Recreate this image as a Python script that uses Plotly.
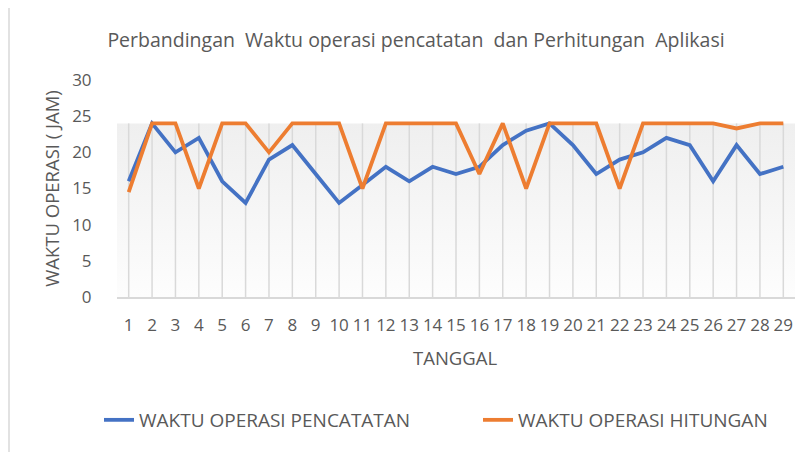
import plotly.graph_objects as go

# ---- data ----
tanggal = list(range(1, 30))
pencatatan = [16, 24, 20, 22, 16, 13, 19, 21, 17, 13, 15.5, 18, 16, 18, 17,
              18, 21, 23, 24, 21, 17, 19, 20, 22, 21, 16, 21, 17, 18]
hitungan = [14.5, 24, 24, 15, 24, 24, 20, 24, 24, 24, 15, 24, 24, 24, 24,
            17, 24, 15, 24, 24, 24, 15, 24, 24, 24, 24, 23.3, 24, 24]
y_ticks = [0, 5, 10, 15, 20, 25, 30]
band_top = max(hitungan)

title_text = "Perbandingan&nbsp; Waktu operasi pencatatan&nbsp; dan Perhitungan&nbsp; Aplikasi"
y_title = "WAKTU OPERASI ( JAM)"
x_title = "TANGGAL"
names = ["WAKTU OPERASI PENCATATAN", "WAKTU OPERASI HITUNGAN"]

# ---- layout geometry (page pixels; the page body adds an 8px offset) ----
W, H = 807, 452
OFF = 8
PL, PR, PT, PB = 117, 795, 80, 297      # plot area edges on the page
L, T = PL - OFF, PT - OFF
R, B = W - (PR - OFF), H - (PB - OFF)
pw, ph = W - L - R, H - T - B

def px_x(x):
    return (x - OFF - L) / pw

def px_y(y):
    return (H - B - (y - OFF)) / ph

FONT = "Open Sans"
GREY = "#595959"
BLUE = "#4472C4"
ORANGE = "#ED7D31"

fig = go.Figure()

# shaded backdrop band with gradient
fig.add_trace(go.Scatter(
    x=[tanggal[0] - 0.5, tanggal[-1] + 0.5], y=[band_top, band_top],
    mode="lines", line=dict(width=0, color="rgba(0,0,0,0)"),
    fill="tozeroy",
    fillgradient=dict(type="vertical",
                      colorscale=[[0, "#fdfdfd"], [1, "#efefef"]]),
    hoverinfo="skip", showlegend=False))

# vertical drop lines at each category
vx, vy = [], []
for t in tanggal:
    vx += [t, t, None]
    vy += [0, band_top, None]
fig.add_trace(go.Scatter(x=vx, y=vy, mode="lines",
                         line=dict(color="#d9d9d9", width=1.5),
                         hoverinfo="skip", showlegend=False))

fig.add_trace(go.Scatter(x=tanggal, y=pencatatan, mode="lines", name=names[0],
                         line=dict(color=BLUE, width=3.8)))
fig.add_trace(go.Scatter(x=tanggal, y=hitungan, mode="lines", name=names[1],
                         line=dict(color=ORANGE, width=3.8)))

fig.update_layout(
    width=W, height=H,
    margin=dict(l=L, r=R, t=T, b=B, autoexpand=False),
    paper_bgcolor="white", plot_bgcolor="white",
    font=dict(family=FONT, color=GREY, size=17),
    title=dict(text=title_text, x=(416 - OFF) / W, xanchor="center",
               y=1 - (40 - OFF) / H, yanchor="middle",
               font=dict(family=FONT, size=19.5, color=GREY)),
    showlegend=True,
    legend=dict(orientation="h", x=px_x(99), y=px_y(420), yanchor="middle",
                xanchor="left", font=dict(size=19, color=GREY),
                itemwidth=30, traceorder="normal",
                entrywidth=334, entrywidthmode="pixels"),
    xaxis=dict(range=[tanggal[0] - 0.5, tanggal[-1] + 0.5],
               tickmode="array", tickvals=tanggal,
               ticktext=[str(t) for t in tanggal],
               showgrid=False, zeroline=False,
               showline=True, linecolor="#d9d9d9", linewidth=1.5,
               ticks="outside", ticklen=12, tickcolor="rgba(0,0,0,0)",
               tickfont=dict(size=17, color=GREY)),
    yaxis=dict(range=[0, 30], tickvals=y_ticks, showgrid=False,
               zeroline=False, showline=False,
               ticks="outside", ticklen=21, tickcolor="rgba(0,0,0,0)",
               tickfont=dict(size=17, color=GREY),
               title=dict(text=y_title, standoff=7,
                          font=dict(size=18.5, color=GREY))),
    annotations=[
        dict(text=x_title, xref="paper", yref="paper", x=px_x(455), y=px_y(357),
             showarrow=False, xanchor="center", yanchor="middle",
             font=dict(size=18.5, color=GREY)),
    ],
    shapes=[
        dict(type="rect", xref="paper", yref="paper",
             x0=px_x(9), x1=px_x(W + 30), y0=px_y(H + 30), y1=px_y(5),
             line=dict(color="#d9d9d9", width=1.5), fillcolor="rgba(0,0,0,0)",
             layer="below"),
    ],
)

fig.write_html("out.html")
